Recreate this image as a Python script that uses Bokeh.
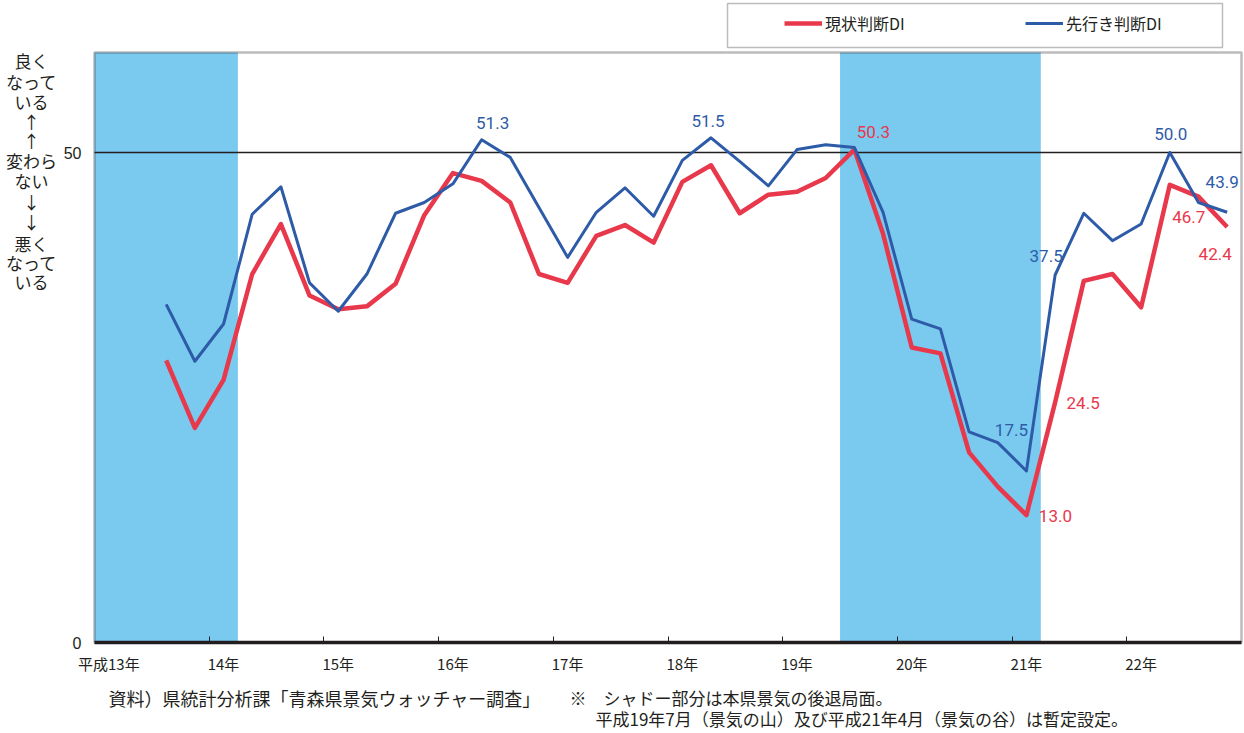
from bokeh.plotting import figure
from bokeh.models import Range1d, FixedTicker, Label, Legend, LegendItem, BoxAnnotation
from bokeh.embed import file_html
from bokeh.resources import INLINE

# ---------------- data ----------------
years = ["平成13年", "14年", "15年", "16年", "17年", "18年", "19年", "20年", "21年", "22年"]
quarters_per_year = 4            # surveys: Jan, Apr, Jul, Oct
first_quarter_index = 2          # first survey: 平成13年7月

genjo = [28.8, 21.9, 26.8, 37.6, 42.7, 35.4, 34.0, 34.3, 36.6, 43.6,
         47.9, 47.1, 44.9, 37.6, 36.7, 41.5, 42.6, 40.8, 47.0, 48.7,
         43.8, 45.7, 46.0, 47.4, 50.3, 41.7, 30.1, 29.5, 19.4, 15.9,
         13.0, 24.5, 36.9, 37.6, 34.2, 46.7, 45.5, 42.4]
sakiyuki = [34.5, 28.7, 32.5, 43.7, 46.5, 36.7, 33.8, 37.6, 43.8, 44.9,
            46.8, 51.3, 49.5, 44.4, 39.3, 43.9, 46.4, 43.5, 49.2, 51.5,
            49.1, 46.6, 50.3, 50.8, 50.5, 43.9, 33.0, 32.0, 21.5, 20.4,
            17.5, 37.5, 43.8, 41.0, 42.7, 50.0, 44.9, 43.9]

recession_start = [0, 26]   # quarter boundaries (shaded = 後退局面)
recession_end = [5, 33]

series_names = ["現状判断DI", "先行き判断DI"]
y_ticks = [0, 50]
y_top = 60.2

# labelled points: (series, quarter index, dx px, dy px)
labelled = [
    ("sakiyuki", 13, 11, 17), ("sakiyuki", 21, -3, 17), ("sakiyuki", 37, 1, 19),
    ("sakiyuki", 39, -5, 30), ("sakiyuki", 33, -9, 19), ("sakiyuki", 32, -15, 41),
    ("genjo", 26, 19, 18), ("genjo", 37, 19, -32), ("genjo", 39, -12, -27),
    ("genjo", 32, 29, -1), ("genjo", 33, 28, -1),
]

side_text = ["良く", "なって", "いる", "↑", "↑", "変わら", "ない", "↓", "↓", "悪く", "なって", "いる"]
side_y = [60, 81, 101, 121, 140, 160, 180, 201, 221, 243, 262, 281]

source_note = "資料）県統計分析課「青森県景気ウォッチャー調査」"
shade_note_1 = "※　シャドー部分は本県景気の後退局面。"
shade_note_2 = "平成19年7月（景気の山）及び平成21年4月（景気の谷）は暫定設定。"

# ---------------- styling ----------------
RED = "#E8384B"
BLUE = "#2E5BA8"
SHADE = "#7AC9EF"
INK = "#231F20"
JP = "Noto Sans CJK JP"
NUM = "Roboto"

W, H = 1244, 733
PLOT_L, PLOT_W, PLOT_B, PPU = 94, 1147, 642, 9.8   # plot box in canvas px

n_cat = len(years) * quarters_per_year
PPC = PLOT_W / n_cat
x = [first_quarter_index + i + 0.5 for i in range(len(genjo))]
vals = {"genjo": genjo, "sakiyuki": sakiyuki}
cols = {"genjo": RED, "sakiyuki": BLUE}

def rx(px):
    return (px - PLOT_L) / PPC
def ry(py):
    return (PLOT_B - py) / PPU

p = figure(width=W, height=H, output_backend="svg", toolbar_location=None,
           x_range=Range1d(rx(0), rx(W)), y_range=Range1d(ry(H), ry(0)),
           min_border=0)
p.background_fill_color = "white"
p.border_fill_color = "white"
p.outline_line_color = None
p.grid.visible = False

# shading (recession periods)
p.quad(left=recession_start, right=recession_end, bottom=0, top=y_top,
       fill_color=SHADE, line_color=None)
# 50 reference line
p.segment(x0=[0], y0=[y_ticks[1]], x1=[n_cat], y1=[y_ticks[1]], line_color=INK, line_width=1.5)

r_red = p.line(x, genjo, line_color=RED, line_width=4.5, line_join="round")
r_blue = p.line(x, sakiyuki, line_color=BLUE, line_width=3, line_join="round")

# plot-area border
p.add_layout(BoxAnnotation(left=0, right=n_cat, bottom=0, top=y_top,
                           fill_alpha=0, line_color=INK, line_width=2.5))

# axes (fixed at the plot box edges)
p.xaxis.fixed_location = 0
p.xaxis.ticker = FixedTicker(ticks=[i * quarters_per_year + 0.5 for i in range(len(years))],
                             minor_ticks=[i * quarters_per_year for i in range(1, len(years))])
p.xaxis.major_label_overrides = {i * quarters_per_year + 0.5: y for i, y in enumerate(years)}
p.xaxis.major_tick_in = 0
p.xaxis.major_tick_out = 0
p.xaxis.minor_tick_in = 6
p.xaxis.minor_tick_out = 0
p.xaxis.minor_tick_line_color = INK
p.xaxis.minor_tick_line_width = 1
p.xaxis.axis_line_color = None
p.xaxis.major_label_standoff = 10
p.xaxis.major_label_text_font = JP
p.xaxis.major_label_text_font_size = "15px"
p.xaxis.major_label_text_color = INK

p.yaxis.fixed_location = 0
p.yaxis.ticker = FixedTicker(ticks=y_ticks)
p.yaxis.major_tick_in = 0
p.yaxis.major_tick_out = 0
p.yaxis.minor_tick_line_color = None
p.yaxis.axis_line_color = None
p.yaxis.major_label_standoff = 13
p.yaxis.major_label_text_font = "Liberation Sans"
p.yaxis.major_label_text_font_size = "16px"
p.yaxis.major_label_text_color = INK

# thicker bottom edge
p.segment(x0=[0], y0=[0], x1=[n_cat], y1=[0], line_color=INK, line_width=3.5)

# data labels
for s, q, dx, dy in labelled:
    i = q - first_quarter_index
    p.add_layout(Label(x=x[i], y=vals[s][i], x_offset=dx, y_offset=dy,
                       text=f"{vals[s][i]:.1f}", text_color=cols[s],
                       text_font=NUM, text_font_size="17px",
                       text_align="center", text_baseline="middle"))

# side annotation
for t, yy in zip(side_text, side_y):
    p.add_layout(Label(x=rx(31), y=ry(yy), text=t, text_font=JP,
                       text_font_size="17px", text_color=INK,
                       text_align="center", text_baseline="middle"))

# notes
p.add_layout(Label(x=rx(108), y=ry(697), text=source_note, text_font=JP,
                   text_font_size="18px", text_color=INK, text_align="left", text_baseline="middle"))
p.add_layout(Label(x=rx(569), y=ry(697), text=shade_note_1, text_font=JP,
                   text_font_size="17px", text_color=INK, text_align="left", text_baseline="middle"))
p.add_layout(Label(x=rx(595), y=ry(718), text=shade_note_2, text_font=JP,
                   text_font_size="17px", text_color=INK, text_align="left", text_baseline="middle"))

# legend
p.add_layout(BoxAnnotation(left=rx(727), right=rx(1222), top=ry(3), bottom=ry(47),
                           fill_alpha=0, line_color=INK, line_width=1.5))
legend = Legend(items=[LegendItem(label=series_names[0], renderers=[r_red]),
                       LegendItem(label=series_names[1], renderers=[r_blue])],
                orientation="horizontal", location=(779, H - 40), padding=5, spacing=0,
                glyph_width=38, glyph_height=20, label_standoff=3, label_width=200, label_height=20,
                label_text_font=JP, label_text_font_size="16px", label_text_color=INK,
                border_line_alpha=0, background_fill_alpha=0, margin=0)
p.add_layout(legend)

open("out.html", "w").write(file_html(p, INLINE))
